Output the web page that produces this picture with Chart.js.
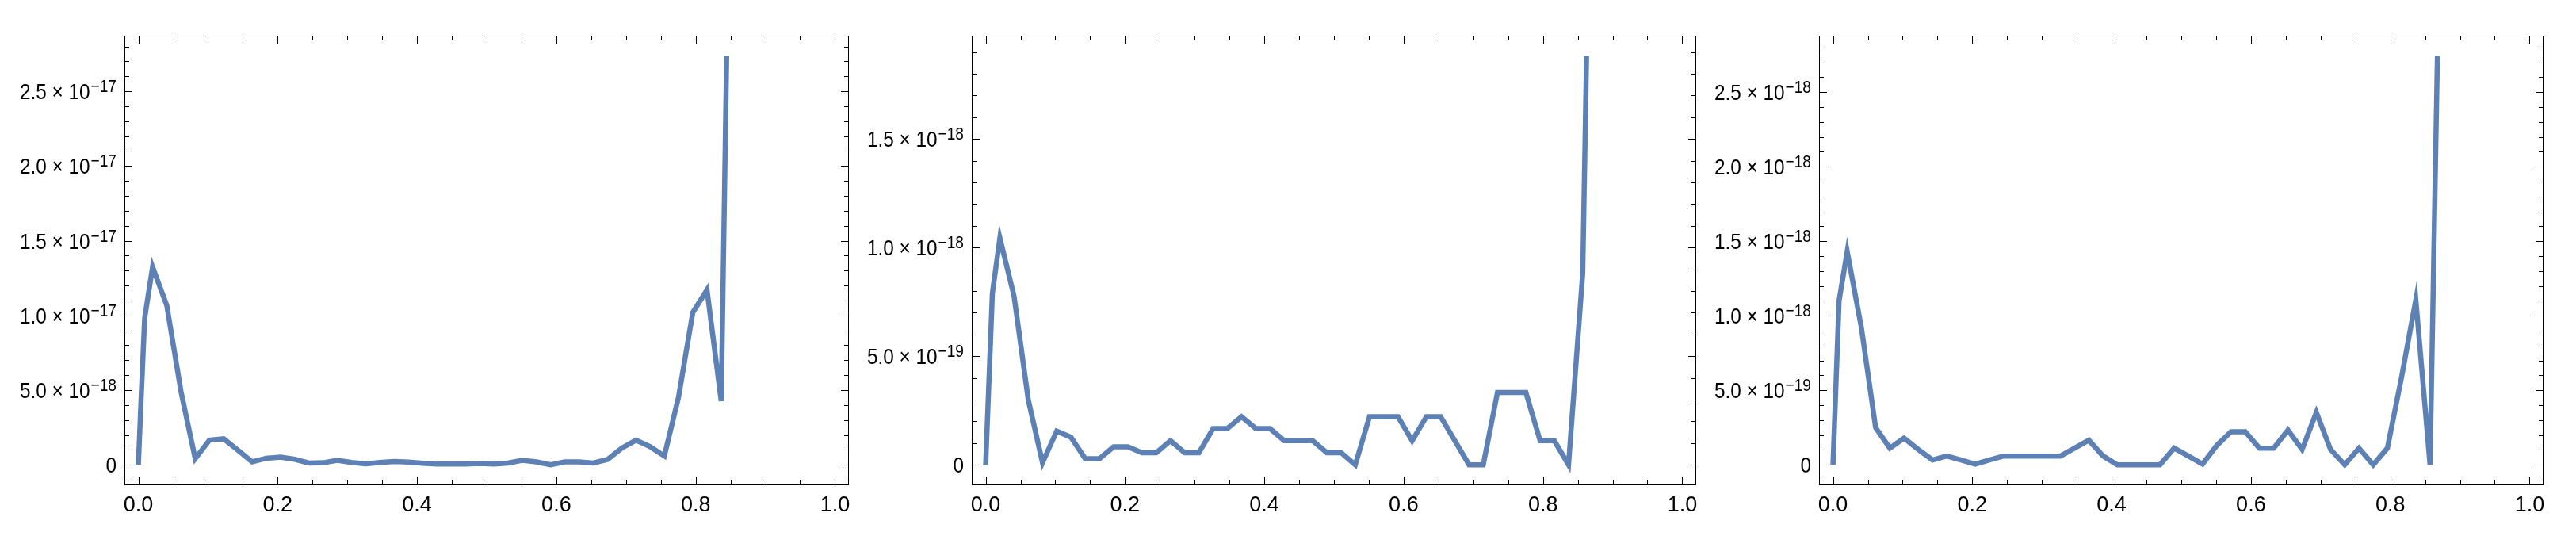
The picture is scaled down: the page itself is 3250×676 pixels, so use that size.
<!DOCTYPE html>
<html><head><meta charset="utf-8">
<script src="https://cdn.jsdelivr.net/npm/chart.js@4.4.1/dist/chart.umd.min.js"></script>
<style>
html,body{margin:0;padding:0;background:#fff;width:3250px;height:676px;overflow:hidden;}
canvas{position:absolute;top:0;}
</style></head><body>
<canvas id="c1" width="1091" height="676" style="left:0px"></canvas>
<canvas id="c2" width="1091" height="676" style="left:1069px"></canvas>
<canvas id="c3" width="1091" height="676" style="left:2138px"></canvas>
<script>
// ---- tick labels ----
const xTickValues = [0, 0.2, 0.4, 0.6, 0.8, 1.0];
const xTickLabels = ["0.0", "0.2", "0.4", "0.6", "0.8", "1.0"];

const panel1YTicks = [0, 5e-18, 1e-17, 1.5e-17, 2e-17, 2.5e-17];
const panel1YLabels = ["0", "5.0 × 10^−18", "1.0 × 10^−17", "1.5 × 10^−17", "2.0 × 10^−17", "2.5 × 10^−17"];
const panel2YTicks = [0, 5e-19, 1e-18, 1.5e-18];
const panel2YLabels = ["0", "5.0 × 10^−19", "1.0 × 10^−18", "1.5 × 10^−18"];
const panel3YTicks = [0, 5e-19, 1e-18, 1.5e-18, 2e-18, 2.5e-18];
const panel3YLabels = ["0", "5.0 × 10^−19", "1.0 × 10^−18", "1.5 × 10^−18", "2.0 × 10^−18", "2.5 × 10^−18"];

// ---- series ----
const panel1X = [0, 0.004, 0.009, 0.0204, 0.0408, 0.0612, 0.0816, 0.1020, 0.1224, 0.1429, 0.1633, 0.1837, 0.2041, 0.2245, 0.2449, 0.2653, 0.2857, 0.3061, 0.3265, 0.3469, 0.3673, 0.3878, 0.4082, 0.4286, 0.4490, 0.4694, 0.4898, 0.5102, 0.5306, 0.5510, 0.5714, 0.5918, 0.6122, 0.6327, 0.6531, 0.6735, 0.6939, 0.7143, 0.7347, 0.7551, 0.7755, 0.7959, 0.8163, 0.8367, 0.8445];
const panel1Y = [0, 4.5e-18, 9.8e-18, 13.24e-18, 10.66e-18, 4.9e-18, 0.41e-18, 1.65e-18, 1.74e-18, 0.98e-18, 0.2e-18, 0.44e-18, 0.51e-18, 0.37e-18, 0.12e-18, 0.14e-18, 0.3e-18, 0.16e-18, 0.07e-18, 0.16e-18, 0.23e-18, 0.18e-18, 0.1e-18, 0.05e-18, 0.05e-18, 0.05e-18, 0.09e-18, 0.05e-18, 0.12e-18, 0.3e-18, 0.2e-18, 0, 0.2e-18, 0.2e-18, 0.12e-18, 0.36e-18, 1.12e-18, 1.65e-18, 1.21e-18, 0.59e-18, 4.55e-18, 10.2e-18, 11.7e-18, 4.26e-18, 27.35e-18];

const panel2X = [0, 0.0096, 0.0204, 0.0408, 0.0612, 0.0816, 0.1020, 0.1224, 0.1429, 0.1633, 0.1837, 0.2041, 0.2245, 0.2449, 0.2653, 0.2857, 0.3061, 0.3265, 0.3469, 0.3673, 0.3878, 0.4082, 0.4286, 0.4490, 0.4694, 0.4898, 0.5102, 0.5306, 0.5510, 0.5714, 0.5918, 0.6122, 0.6327, 0.6531, 0.6735, 0.6939, 0.7143, 0.7347, 0.7551, 0.7755, 0.7959, 0.8163, 0.8367, 0.8571, 0.8626];
const panel2Y = [0, 7.89e-19, 10.44e-19, 7.75e-19, 2.98e-19, 0.1e-19, 1.55e-19, 1.27e-19, 0.28e-19, 0.28e-19, 0.83e-19, 0.83e-19, 0.56e-19, 0.56e-19, 1.11e-19, 0.56e-19, 0.56e-19, 1.67e-19, 1.67e-19, 2.22e-19, 1.67e-19, 1.67e-19, 1.11e-19, 1.11e-19, 1.11e-19, 0.56e-19, 0.56e-19, 0, 2.22e-19, 2.22e-19, 2.22e-19, 1.11e-19, 2.22e-19, 2.22e-19, 1.11e-19, 0, 0, 3.33e-19, 3.33e-19, 3.33e-19, 1.11e-19, 1.11e-19, 0, 8.84e-19, 18.81e-19];

const panel3X = [0, 0.0087, 0.0204, 0.0408, 0.0612, 0.0816, 0.1020, 0.1224, 0.1429, 0.1633, 0.1837, 0.2041, 0.2245, 0.2449, 0.2653, 0.2857, 0.3061, 0.3265, 0.3469, 0.3673, 0.3878, 0.4082, 0.4286, 0.4490, 0.4694, 0.4898, 0.5102, 0.5306, 0.5510, 0.5714, 0.5918, 0.6122, 0.6327, 0.6531, 0.6735, 0.6939, 0.7143, 0.7347, 0.7551, 0.7755, 0.7959, 0.8163, 0.8367, 0.8571, 0.8677];
const panel3Y = [0, 11.0e-19, 14.31e-19, 9.19e-19, 2.5e-19, 1.12e-19, 1.79e-19, 1.03e-19, 0.32e-19, 0.59e-19, 0.32e-19, 0.05e-19, 0.32e-19, 0.59e-19, 0.59e-19, 0.59e-19, 0.59e-19, 0.59e-19, 1.12e-19, 1.65e-19, 0.59e-19, 0, 0, 0, 0, 1.12e-19, 0.59e-19, 0.05e-19, 1.3e-19, 2.22e-19, 2.22e-19, 1.12e-19, 1.12e-19, 2.33e-19, 1.03e-19, 3.52e-19, 1.03e-19, 0, 1.12e-19, 0, 1.12e-19, 5.9e-19, 11.08e-19, 0, 27.42e-19];

const panels = [
  {id: 'c1', xs: panel1X, ys: panel1Y, yTicks: panel1YTicks, yLabels: panel1YLabels},
  {id: 'c2', xs: panel2X, ys: panel2Y, yTicks: panel2YTicks, yLabels: panel2YLabels},
  {id: 'c3', xs: panel3X, ys: panel3Y, yTicks: panel3YTicks, yLabels: panel3YLabels}
];

const FONT = '"Liberation Sans", Arial, sans-serif';

function makeFramePlugin(p) {
  return {
    id: 'frameTicks',
    afterDatasetsDraw(chart) {
      const ctx = chart.ctx, a = chart.chartArea, xs = chart.scales.x, ys = chart.scales.y;
      ctx.save();
      ctx.strokeStyle = '#000';
      ctx.lineWidth = 1;
      ctx.strokeRect(a.left + 0.5, a.top + 0.5, a.right - a.left - 1, a.bottom - a.top - 1);
      const MAJ = 10, MIN = 6;
      ctx.beginPath();
      const xStep = (xTickValues[1] - xTickValues[0]) / 4;
      for (let i = Math.ceil(xs.min / xStep - 1e-9); i <= Math.floor(xs.max / xStep + 1e-9); i++) {
        const v = i * xStep;
        const isMaj = xTickValues.some(t => Math.abs(t - v) < 1e-9);
        const L = isMaj ? MAJ : MIN;
        const px = Math.round(xs.getPixelForValue(v)) + 0.5;
        ctx.moveTo(px, a.bottom); ctx.lineTo(px, a.bottom - L);
        ctx.moveTo(px, a.top); ctx.lineTo(px, a.top + L);
      }
      const yStep = (p.yTicks[1] - p.yTicks[0]) / 5;
      for (let i = Math.ceil(ys.min / yStep - 1e-9); i <= Math.floor(ys.max / yStep + 1e-9); i++) {
        const v = i * yStep;
        const isMaj = p.yTicks.some(t => Math.abs(t - v) < yStep * 1e-6);
        const L = isMaj ? MAJ : MIN;
        const py = Math.round(ys.getPixelForValue(v)) + 0.5;
        ctx.moveTo(a.left, py); ctx.lineTo(a.left + L, py);
        ctx.moveTo(a.right, py); ctx.lineTo(a.right - L, py);
      }
      ctx.stroke();
      ctx.fillStyle = '#000';
      ctx.textBaseline = 'alphabetic';
      ctx.textAlign = 'right';
      const R = a.left - 10;
      p.yTicks.forEach((v, i) => {
        const py = ys.getPixelForValue(v);
        const parts = p.yLabels[i].split('^');
        ctx.save();
        ctx.translate(R, py);
        ctx.scale(0.87, 1);
        let xr = 0;
        if (parts[1]) {
          ctx.font = '22px ' + FONT;
          ctx.fillText(parts[1], 0, 1);
          xr = -ctx.measureText(parts[1]).width - 1;
        }
        ctx.font = '28px ' + FONT;
        ctx.fillText(parts[0], xr, 10);
        ctx.restore();
      });
      ctx.restore();
    }
  };
}

panels.forEach(p => {
  const vmax = Math.max(...p.ys), vmin = Math.min(...p.ys);
  const pad = 0.05 * (vmax - vmin);
  new Chart(document.getElementById(p.id), {
    type: 'line',
    data: {
      datasets: [{
        data: p.xs.map((xv, i) => ({x: xv, y: p.ys[i]})),
        borderColor: '#5E81B5',
        borderWidth: 6.5,
        pointRadius: 0,
        tension: 0,
        fill: false,
        borderJoinStyle: 'miter',
        borderCapStyle: 'butt'
      }]
    },
    options: {
      responsive: false,
      animation: false,
      devicePixelRatio: 1,
      layout: {padding: {top: 45, right: 20, left: 0, bottom: 0}},
      plugins: {legend: {display: false}, tooltip: {enabled: false}},
      scales: {
        x: {
          type: 'linear', min: -0.02, max: 1.02,
          grid: {display: false, drawTicks: false},
          border: {display: false},
          afterBuildTicks: s => { s.ticks = xTickValues.map(v => ({value: v})); },
          ticks: {
            callback: (v, i) => xTickLabels[i],
            font: {family: FONT, size: 27},
            color: '#000', padding: 9, maxRotation: 0, autoSkip: false
          },
          afterFit: s => { s.height = 64; }
        },
        y: {
          type: 'linear', min: vmin - pad, max: vmax + pad,
          grid: {display: false, drawTicks: false},
          border: {display: false},
          afterBuildTicks: s => { s.ticks = p.yTicks.map(v => ({value: v})); },
          ticks: {display: false},
          afterFit: s => { s.width = 157; }
        }
      }
    },
    plugins: [makeFramePlugin(p)]
  });
});
</script>
</body></html>
